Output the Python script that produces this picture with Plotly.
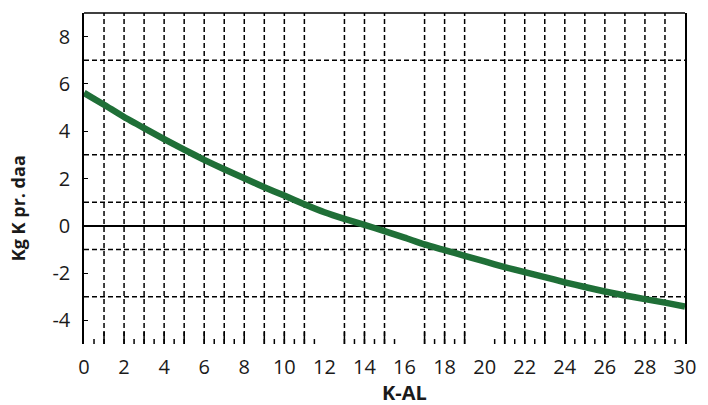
import plotly.graph_objects as go

# K-AL value and recommended potassium adjustment (kg K per daa)
k_al = [0, 1, 2, 3, 4, 5, 6, 7, 8, 9, 10, 11, 12, 13, 14, 15,
        16, 17, 18, 19, 20, 21, 22, 23, 24, 25, 26, 27, 28, 29, 30]
kg_k = [5.62, 5.12, 4.60, 4.13, 3.67, 3.22, 2.79, 2.39, 2.01, 1.63, 1.28,
        0.91, 0.57, 0.29, 0.04, -0.23, -0.50, -0.79, -1.03, -1.27, -1.51,
        -1.75, -1.96, -2.17, -2.39, -2.59, -2.78, -2.95, -3.10, -3.25, -3.42]

# axis ticks
x_ticks = list(range(0, 31, 2))
y_ticks = [-4, -2, 0, 2, 4, 6, 8]
y_tick_text = [str(v) for v in y_ticks]

# dashed reference lines
grid_x = [1, 2, 3, 4, 5, 6, 7, 8, 9, 10, 11, 13, 14, 15, 17, 18, 19,
          21, 22, 23, 24, 25, 26, 27, 28, 29]
grid_y = [7, 3, 1, -1, -3]
# short marks along the bottom edge
minor_x = [0.5, 2.5, 3.5, 4.5, 6.5, 7.5, 9.5, 10.5, 11.5, 13.5, 14.5, 15.5,
           17.5, 18.5, 20.5, 21.5, 22.5, 24.5, 25.5, 27.5, 28.5, 29.5]

INK = "#000000"
TEXT = "#1a1a1a"
GREEN = "#1f6f37"

fig = go.Figure()
fig.add_trace(go.Scatter(
    x=k_al, y=kg_k, mode="lines",
    line=dict(color=GREEN, width=6.5, shape="spline", smoothing=0.5),
    hoverinfo="skip", showlegend=False,
))

shapes = []
for gx in grid_x:
    shapes.append(dict(type="line", xref="x", yref="paper", x0=gx, x1=gx,
                       y0=0, y1=1, layer="below",
                       line=dict(color=INK, width=1.5, dash="5px,3px")))
    shapes.append(dict(type="line", xref="x", yref="paper", x0=gx, x1=gx,
                       y0=0, y1=0.036, layer="below",
                       line=dict(color=INK, width=1.5)))
for mx in minor_x:
    shapes.append(dict(type="line", xref="x", yref="paper", x0=mx, x1=mx,
                       y0=0, y1=0.015, layer="below",
                       line=dict(color=INK, width=1.5)))
for gy in grid_y:
    shapes.append(dict(type="line", xref="paper", yref="y", x0=0, x1=1,
                       y0=gy, y1=gy, layer="below",
                       line=dict(color=INK, width=1.5, dash="5px,3px")))
# top frame edge
shapes.append(dict(type="line", xref="paper", yref="paper", x0=0, x1=1,
                   y0=1, y1=1, line=dict(color=INK, width=1.5)))

annotations = [
    dict(text="<b>Kg K pr. daa</b>", xref="paper", yref="paper",
         x=-0.11, y=0.41, textangle=-90, showarrow=False,
         xanchor="center", yanchor="middle",
         font=dict(size=18, color=TEXT)),
    dict(text="<b>K-AL</b>", xref="paper", yref="paper",
         x=0.533, y=-0.148, showarrow=False,
         xanchor="center", yanchor="middle",
         font=dict(size=20, color=TEXT)),
]

fig.update_layout(
    width=708, height=405,
    margin=dict(l=84, r=14, t=13, b=61),
    paper_bgcolor="white", plot_bgcolor="white",
    font=dict(family="Open Sans", size=20, color=TEXT),
    shapes=shapes,
    annotations=annotations,
    xaxis=dict(
        range=[0, 30], tickvals=x_ticks, ticks="", showgrid=False,
        zeroline=False, showline=False, ticklabelstandoff=9,
    ),
    yaxis=dict(
        range=[-5, 9], tickvals=y_ticks, ticktext=y_tick_text,
        ticks="inside", ticklen=4,
        tickcolor=INK, showgrid=False, showline=True, mirror=True,
        linecolor=INK, linewidth=1.5, zeroline=True, zerolinecolor=INK,
        zerolinewidth=1.5, ticklabelstandoff=8,
    ),
)

fig.write_html("out.html")
